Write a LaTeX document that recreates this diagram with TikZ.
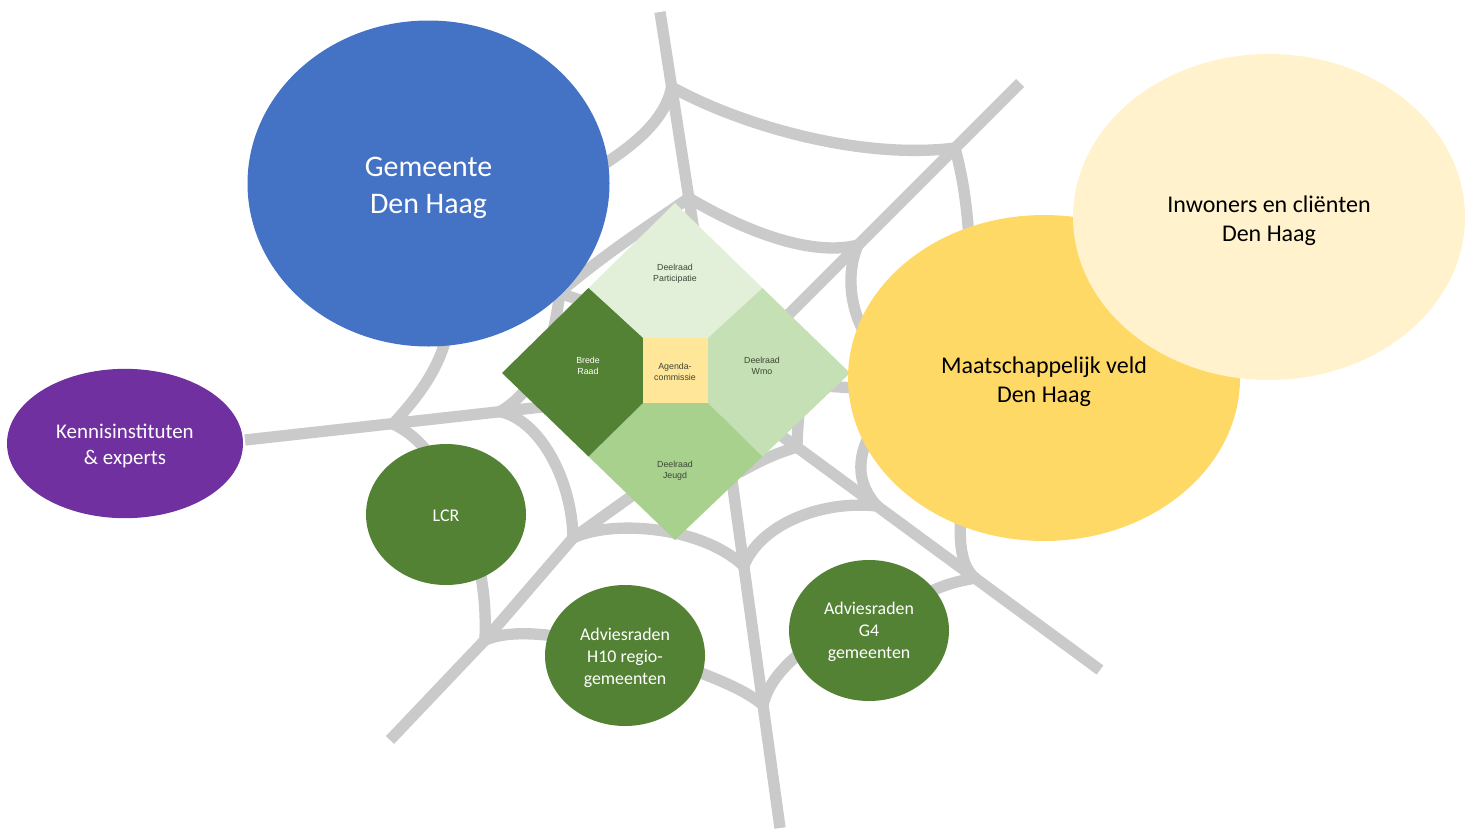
\documentclass[tikz,border=0pt]{standalone}
\usepackage{fontspec}
\setmainfont{Carlito}
\newfontfamily\arialf{Liberation Sans}
\usetikzlibrary{shapes.geometric}
\definecolor{webgray}{HTML}{CACACA}
\definecolor{gemblue}{HTML}{4472C4}
\definecolor{kenpurple}{HTML}{7030A0}
\definecolor{raadgreen}{HTML}{548235}
\definecolor{veldyellow}{HTML}{FFD966}
\definecolor{inwyellow}{HTML}{FFF2CC}
\definecolor{partgreen}{HTML}{E2F0D9}
\definecolor{wmogreen}{HTML}{C5E0B4}
\definecolor{jeugdgreen}{HTML}{A9D18E}
\definecolor{agendayellow}{HTML}{FFE699}
\definecolor{smalltext}{HTML}{3C4638}
\begin{document}
\begin{tikzpicture}[x=0.75pt,y=-0.75pt,
  spoke/.style={draw=webgray,line width=8.5pt},
  ring/.style={draw=webgray,line width=8.5pt,line cap=round},
  bubble/.style={ellipse,inner sep=0pt},
  smallbubble/.style={bubble,fill=raadgreen,minimum width=120pt,minimum height=105.75pt},
  bigbubble/.style={bubble,minimum width=294pt,minimum height=244.5pt},
  bubbletext/.style={align=center,inner sep=0pt,text=white},
  smalltextstyle/.style={bubbletext,font=\fontsize{13.4}{16.5}\selectfont},
  bigtextstyle/.style={bubbletext,text=black,font=\fontsize{18}{21.75}\selectfont},
  piecelabel/.style={align=center,inner sep=0pt,text=smalltext,
    font=\arialf\fontsize{6.6}{8.25}\selectfont}]
\useasboundingbox (0,0) rectangle (1473,832);

% ---------- web: spokes ----------
\draw[spoke] (660,12) -- (700,270);
\draw[spoke] (1020,83) -- (760,343);
\draw[spoke] (760,382) -- (950,394);
\draw[spoke] (1100,670) -- (760,420);
\draw[spoke] (780,828) -- (725,430);
\draw[spoke] (390,740) -- (485,640) -- (573,538) -- (640,490);
\draw[spoke] (245,440) -- (560,405);
\draw[spoke] (430,250) -- (640,320);

% ---------- web: outer ring ----------
\draw[ring] (595,170) .. controls (635,145) and (665,120) .. (671.6,87);
\draw[ring] (671.6,87) .. controls (740,125) and (860,160) .. (955,148);
\draw[ring] (955,148) .. controls (962,175) and (968,205) .. (970,260);
\draw[ring] (962,500) .. controls (958,540) and (960,565) .. (975,578);
\draw[ring] (975,578) .. controls (955,582) and (940,585) .. (915,600);
\draw[ring] (763,705) .. controls (768,685) and (780,668) .. (810,645);
\draw[ring] (680,665) .. controls (720,680) and (745,690) .. (763,705);
\draw[ring] (485,640) .. controls (505,632) and (530,632) .. (570,638);
\draw[ring] (485,640) .. controls (486,610) and (484,590) .. (478,560);
\draw[ring] (393,424) .. controls (410,432) and (425,445) .. (440,470);
\draw[ring] (393,424) .. controls (415,400) and (440,370) .. (448,330);

% ---------- web: middle ring ----------
\draw[ring] (688.8,198) .. controls (650,225) and (610,250) .. (560,292);
\draw[ring] (560,292) .. controls (555,330) and (545,385) .. (500,411.7);
\draw[ring] (500,411.7) .. controls (540,420) and (572,480) .. (573,538);
\draw[ring] (573,538) .. controls (610,520) and (700,525) .. (743.8,566);
\draw[ring] (743.8,566) .. controls (760,525) and (820,500) .. (877,506);
\draw[ring] (877,506) .. controls (858,485) and (855,460) .. (872,430);
\draw[ring] (858,245) .. controls (845,275) and (850,315) .. (872,345);
\draw[ring] (688.8,198) .. controls (760,240) and (820,255) .. (858,245);

% ---------- web: inner ring ----------
\draw[ring] (800,400) .. controls (798,425) and (797,438) .. (797,447.2)
  .. controls (780,452) and (765,458) .. (740,472);

% ---------- central diamond ----------
\coordinate (dT) at (675,203);
\coordinate (dR) at (850,373);
\coordinate (dB) at (675,540);
\coordinate (dL) at (502,373);
\coordinate (mUL) at (588.5,288);
\coordinate (mUR) at (762.5,288);
\coordinate (mLR) at (762.5,456.5);
\coordinate (mLL) at (588.5,456.5);
\coordinate (sTL) at (643,338);
\coordinate (sTR) at (708,338);
\coordinate (sBR) at (708,403);
\coordinate (sBL) at (643,403);
\fill[partgreen] (dT) -- (mUR) -- (sTR) -- (sTL) -- (mUL) -- cycle;
\fill[wmogreen] (mUR) -- (dR) -- (mLR) -- (sBR) -- (sTR) -- cycle;
\fill[jeugdgreen] (mLR) -- (dB) -- (mLL) -- (sBL) -- (sBR) -- cycle;
\fill[raadgreen] (mLL) -- (dL) -- (mUL) -- (sTL) -- (sBL) -- cycle;
\fill[agendayellow] (sTL) rectangle (sBR);

\node[piecelabel] (lblPart) at (675,274) {Deelraad\\Participatie};
\node[piecelabel,text=white] (lblBrede) at (588,366) {Brede\\Raad};
\node[piecelabel] (lblAgenda) at (675,372) {Agenda-\\commissie};
\node[piecelabel] (lblWmo) at (762,366) {Deelraad\\Wmo};
\node[piecelabel] (lblJeugd) at (675,471) {Deelraad\\Jeugd};

% ---------- bubbles ----------
\node[bubble,fill=gemblue,minimum width=271.5pt,minimum height=244.5pt] (gemeente) at (428.5,183.5) {};
\node[bubbletext,font=\fontsize{22.4}{27.75}\selectfont] (gemeenteLbl) at (428.5,188) {Gemeente\\Den Haag};
\node[bubble,fill=kenpurple,minimum width=177pt,minimum height=112pt] (kennis) at (125,443.5) {};
\node[bubbletext,font=\fontsize{15.7}{19.5}\selectfont] (kennisLbl) at (125,446) {Kennisinstituten\\\& experts};
\node[smallbubble] (lcr) at (446,514.5) {};
\node[smalltextstyle] (lcrLbl) at (446,515.5) {LCR};
\node[smallbubble] (h10) at (625,655.5) {};
\node[smalltextstyle] (h10Lbl) at (625,657.5) {Adviesraden\\H10 regio-\\gemeenten};
\node[smallbubble] (g4) at (869,630.5) {};
\node[smalltextstyle] (g4Lbl) at (869,632) {Adviesraden\\G4\\gemeenten};
\node[bigbubble,fill=veldyellow] (veld) at (1044,378) {};
\node[bigtextstyle] (veldLbl) at (1044,382) {Maatschappelijk veld\\Den Haag};
\node[bigbubble,fill=inwyellow] (inwoners) at (1269,217) {};
\node[bigtextstyle] (inwonersLbl) at (1269,221) {Inwoners en cliënten\\Den Haag};
\end{tikzpicture}
\end{document}
